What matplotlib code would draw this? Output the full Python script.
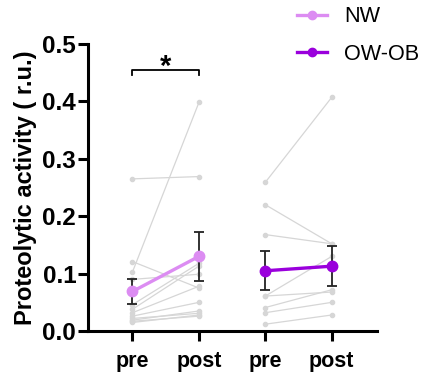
import matplotlib
matplotlib.use("Agg")
import matplotlib.pyplot as plt

plt.rcParams['font.family'] = ['Liberation Sans', 'DejaVu Sans']

# individual subjects (pre -> post)
nw_pre = [0.265, 0.121, 0.103, 0.090, 0.046, 0.038, 0.032, 0.026, 0.022, 0.019, 0.017, 0.015]
nw_post = [0.269, 0.075, 0.398, 0.099, 0.118, 0.113, 0.078, 0.050, 0.031, 0.035, 0.026, 0.028]
ob_pre = [0.259, 0.220, 0.168, 0.061, 0.061, 0.041, 0.032, 0.012]
ob_post = [0.407, 0.152, 0.152, 0.130, 0.068, 0.072, 0.050, 0.028]

# group means and error
nw_mean = [0.069, 0.130]
nw_err = [0.022, 0.043]
ob_mean = [0.105, 0.113]
ob_err = [0.034, 0.035]

tick_labels = ['pre', 'post', 'pre', 'post']
groups = ['NW', 'OW-OB']
colors = ['#dc8cf2', '#9a00dc']

fig = plt.figure(figsize=(4.28, 3.72), dpi=100)
ax = fig.add_axes([0.2056, 0.110, 0.675, 0.772])

grey = '#d6d6d6'
for pre, post, xs in [(nw_pre, nw_post, [1, 2]), (ob_pre, ob_post, [3, 4])]:
    for a, b in zip(pre, post):
        ax.plot(xs, [a, b], color=grey, lw=0.9, marker='o', ms=3, zorder=1)

for xs, m, e, c, lab in [([1, 2], nw_mean, nw_err, colors[0], groups[0]),
                         ([3, 4], ob_mean, ob_err, colors[1], groups[1])]:
    ax.errorbar(xs, m, yerr=e, fmt='none', ecolor='#222222', elinewidth=1.3,
                capsize=3.5, capthick=1.3, zorder=2)
    ax.plot(xs, m, color=c, lw=2.4, marker='o', ms=7.5, zorder=3, label=lab)

# significance bracket
ax.plot([1, 1, 2, 2], [0.446, 0.454, 0.454, 0.446], color='black', lw=1.3, clip_on=False)
ax.text(1.5, 0.436, '*', ha='center', va='bottom', fontsize=21, fontweight='bold')

ax.set_xlim(0.33, 4.68)
ax.set_ylim(0, 0.5)
ax.set_xticks([1, 2, 3, 4])
ax.set_xticklabels(tick_labels, fontsize=15.5, fontweight='bold')
ax.set_yticks([0, 0.1, 0.2, 0.3, 0.4, 0.5])
ax.set_yticklabels(['0.0', '0.1', '0.2', '0.3', '0.4', '0.5'], fontsize=17.5, fontweight='bold')
ax.tick_params(axis='both', width=2.2, length=7)
ax.tick_params(axis='x', pad=7)
ax.tick_params(axis='y', pad=1.5)
ax.set_ylabel('Proteolytic activity ( r.u.)', fontsize=17, fontweight='bold', labelpad=4)

for s in ['top', 'right']:
    ax.spines[s].set_visible(False)
for s in ['left', 'bottom']:
    ax.spines[s].set_linewidth(2.2)

fig.legend(loc='upper right', bbox_to_anchor=(1.025, 1.035), frameon=False, fontsize=15.6,
           handlelength=1.35, handletextpad=0.8, labelspacing=0.75, markerscale=0.8)

fig.savefig('out.png', dpi=100)
